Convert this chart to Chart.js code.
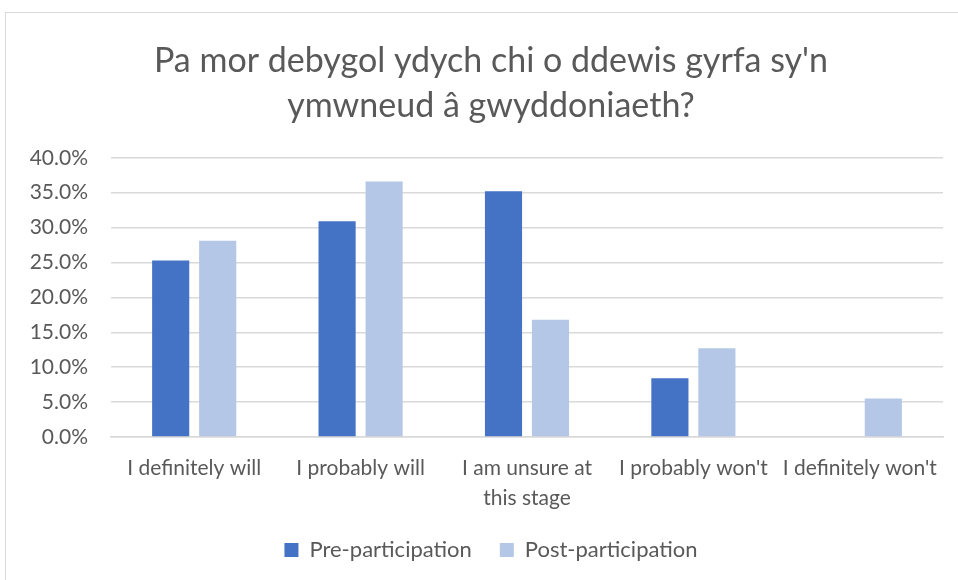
<!DOCTYPE html>
<html>
<head>
<meta charset="utf-8">
<script src="https://cdn.jsdelivr.net/npm/chart.js@4"></script>
<style>
  html, body { margin: 0; padding: 0; background: #fff; overflow: hidden; }
  .frame {
    position: absolute; left: 5px; top: 12px; width: 970px; height: 600px;
    border: 1px solid #d9d9d9; box-sizing: border-box;
  }
  .wrap { position: absolute; left: 0; top: 0; width: 982px; height: 580px; }
</style>
</head>
<body>
<div class="frame"></div>
<div class="wrap"><canvas id="barChart"></canvas></div>
<script>
const categories = [
  "I definitely will",
  "I probably will",
  ["I am unsure at", "this stage"],
  "I probably won't",
  "I definitely won't",
];
const preParticipation = [25.3, 30.9, 35.2, 8.4, 0];
const postParticipation = [28.1, 36.6, 16.8, 12.7, 5.5];
const yTicks = [0, 5, 10, 15, 20, 25, 30, 35, 40];

const textColor = "#595959";
const fontFamily = "Lato, 'Liberation Sans', sans-serif";

const ctx = document.getElementById("barChart").getContext("2d");
new Chart(ctx, {
  type: "bar",
  data: {
    labels: categories,
    datasets: [
      {
        label: "Pre-participation",
        data: preParticipation,
        backgroundColor: "#4472c4",
      },
      {
        label: "Post-participation",
        data: postParticipation,
        backgroundColor: "#b4c7e7",
      },
    ],
  },
  options: {
    responsive: true,
    maintainAspectRatio: false,
    animation: false,
    datasets: {
      bar: {
        categoryPercentage: 0.565,
        barPercentage: 0.79,
      },
    },
    layout: {
      padding: { left: 0, right: 0, top: 39, bottom: 9 },
    },
    plugins: {
      title: {
        display: true,
        text: ["Pa mor debygol ydych chi o ddewis gyrfa sy'n", "ymwneud â gwyddoniaeth?"],
        color: textColor,
        font: { family: fontFamily, size: 34, weight: "normal", lineHeight: 1.32 },
        padding: { top: 0, bottom: 29 },
      },
      legend: {
        position: "bottom",
        labels: {
          color: textColor,
          font: { family: fontFamily, size: 22 },
          boxWidth: 14,
          boxHeight: 14,
          padding: 28,
        },
      },
      tooltip: { enabled: false },
    },
    scales: {
      x: {
        afterFit: (axis) => { axis.height = 74; },
        grid: { display: false },
        border: { color: "#d9d9d9", width: 1.5 },
        ticks: {
          color: textColor,
          font: { family: fontFamily, size: 21, lineHeight: 1.43 },
          maxRotation: 0,
          autoSkip: false,
          padding: 8,
        },
      },
      y: {
        min: 0,
        max: 40,
        afterFit: (axis) => { axis.width = 111; },
        afterBuildTicks: (axis) => {
          axis.ticks = yTicks.map((v) => ({ value: v }));
        },
        grid: { color: "#d9d9d9", lineWidth: 1.5, drawTicks: false },
        border: { display: false },
        ticks: {
          color: textColor,
          font: { family: fontFamily, size: 21 },
          padding: 23,
          callback: (v) => v.toFixed(1) + "%",
        },
      },
      // empty spacer on the right so the plot ends where the original does
      yRight: {
        position: "right",
        afterFit: (axis) => { axis.width = 39; },
        grid: { display: false },
        border: { display: false },
        ticks: { display: false },
      },
    },
  },
});
</script>
</body>
</html>
